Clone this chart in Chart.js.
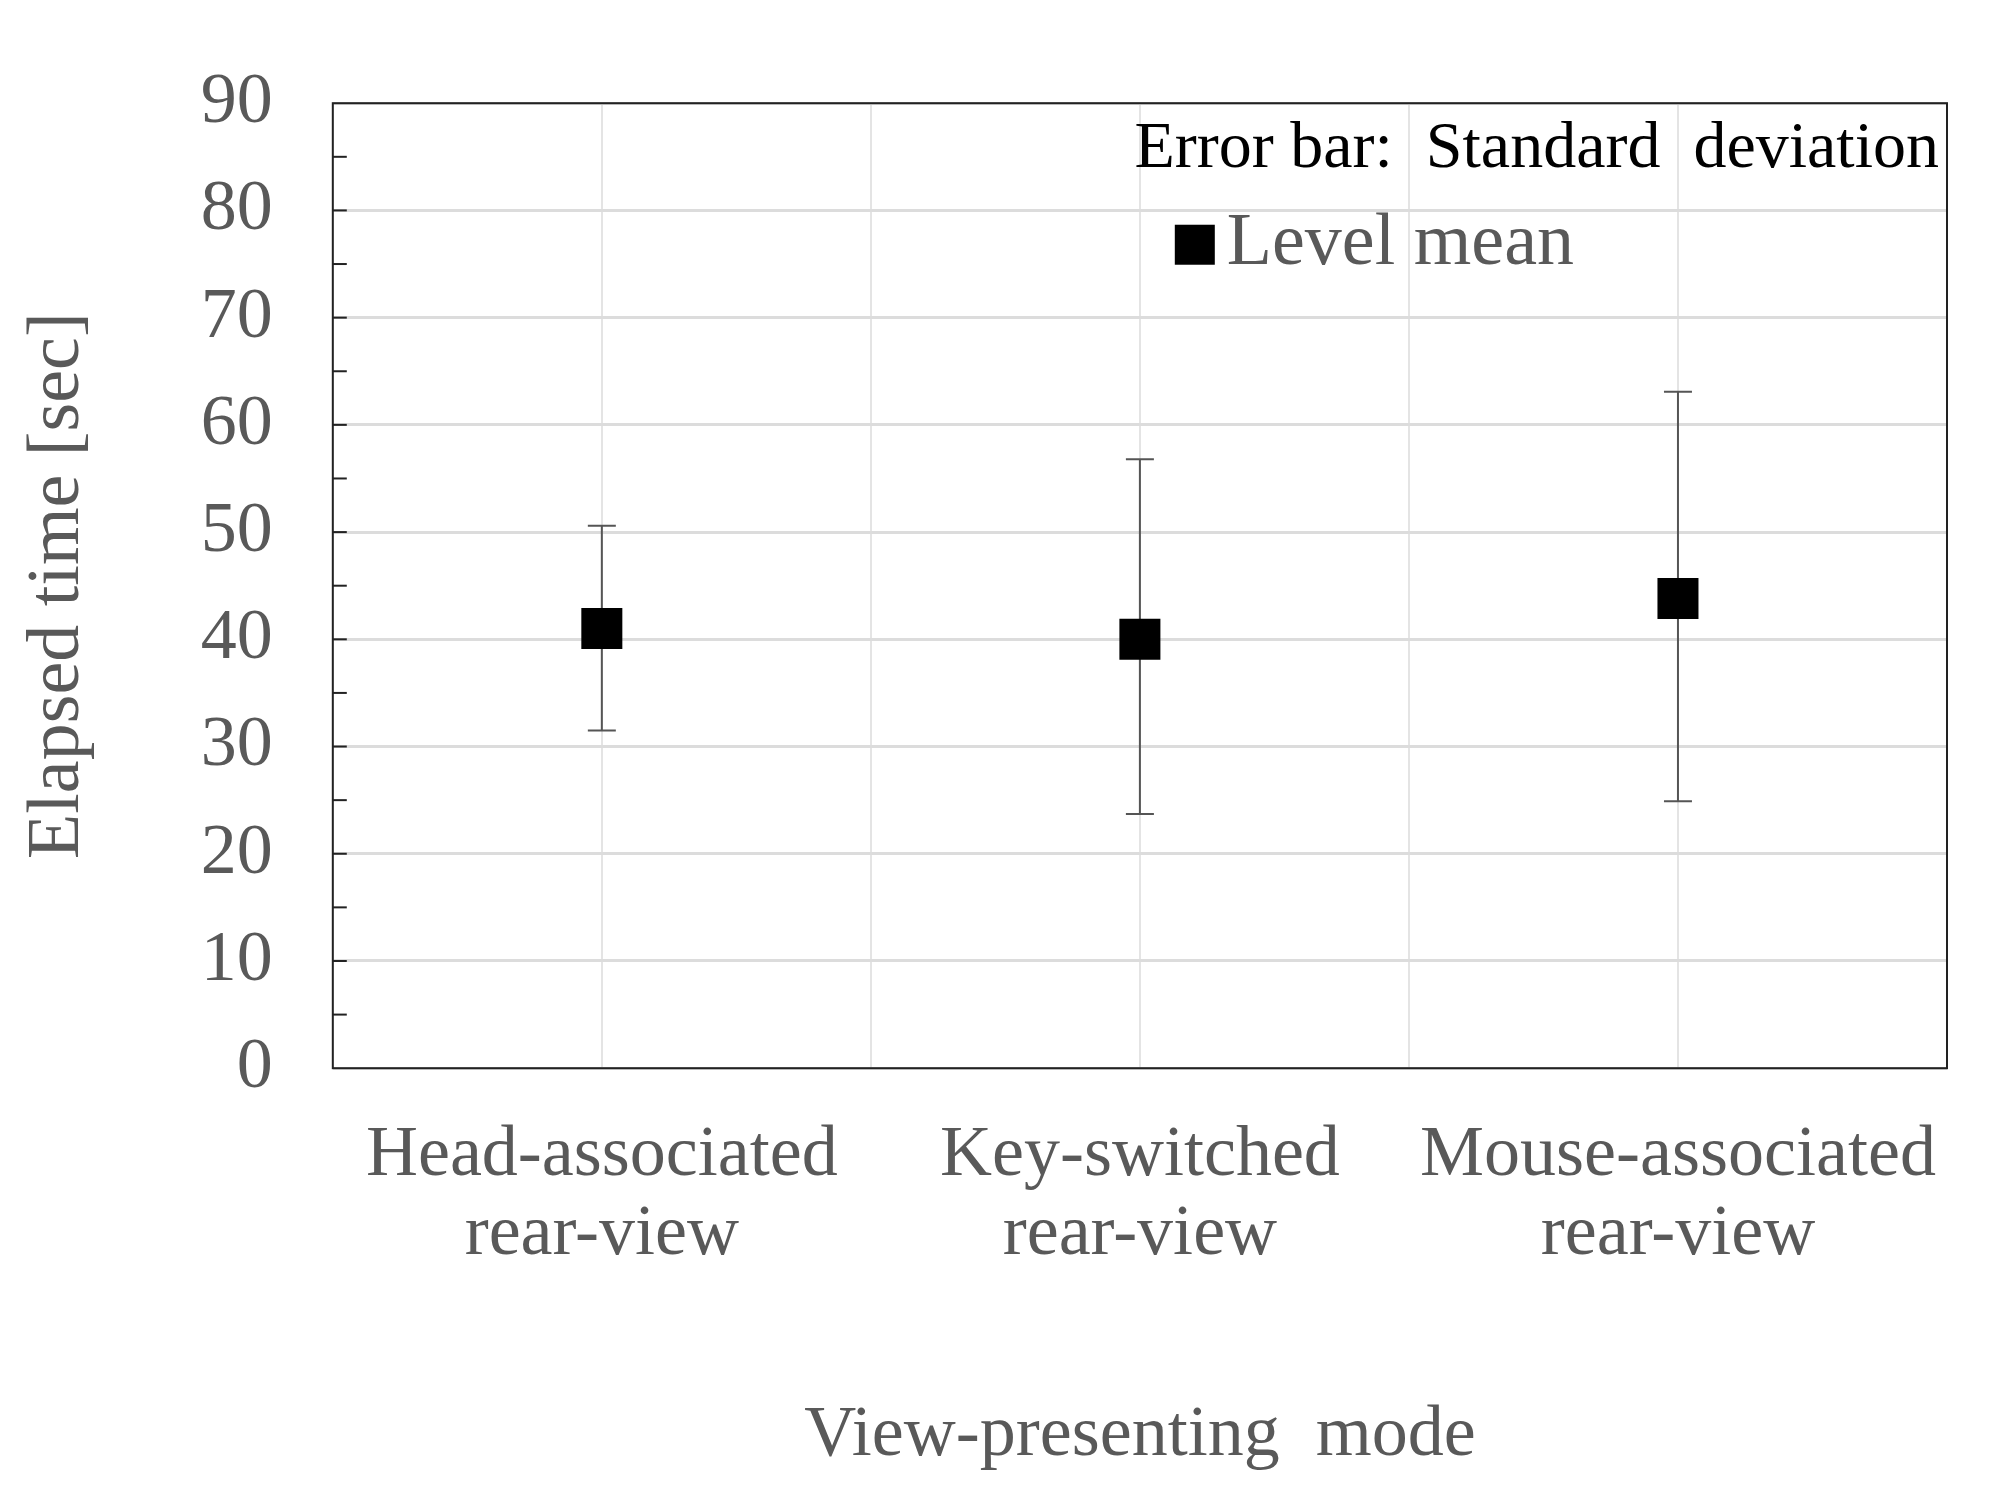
<!DOCTYPE html>
<html>
<head>
<meta charset="utf-8">
<script src="https://cdn.jsdelivr.net/npm/chart.js@4"></script>
<style>
  html, body { margin: 0; padding: 0; background: #fff; }
  #wrap { width: 1995px; height: 1497px; }
</style>
</head>
<body>
<div id="wrap"><canvas id="chart"></canvas></div>
<script>
const categories = [['Head-associated', 'rear-view'], ['Key-switched', 'rear-view'], ['Mouse-associated', 'rear-view']];
const positions = [0.5, 1.5, 2.5];
const means = [41.0, 40.0, 43.8];
const lowers = [31.5, 23.7, 24.9];
const uppers = [50.6, 56.8, 63.1];

const serif = '"Liberation Serif", "DejaVu Serif", serif';
const gray = '#595959';

const errorBars = {
  id: 'errorBars',
  beforeDatasetsDraw(chart) {
    const { ctx, scales: { x, y } } = chart;
    ctx.save();
    ctx.strokeStyle = '#555';
    ctx.lineWidth = 2;
    positions.forEach((p, i) => {
      const px = x.getPixelForValue(p);
      const lo = y.getPixelForValue(lowers[i]);
      const hi = y.getPixelForValue(uppers[i]);
      ctx.beginPath();
      ctx.moveTo(px, lo); ctx.lineTo(px, hi);
      ctx.moveTo(px - 14, lo); ctx.lineTo(px + 14, lo);
      ctx.moveTo(px - 14, hi); ctx.lineTo(px + 14, hi);
      ctx.stroke();
    });
    ctx.restore();
  },
  afterDraw(chart) {
    const { ctx, chartArea: a, scales: { y } } = chart;
    ctx.save();
    // inner tick marks on left axis
    ctx.strokeStyle = '#222';
    ctx.lineWidth = 2;
    for (let v = 5; v < 90; v += 5) {
      const py = y.getPixelForValue(v);
      ctx.beginPath();
      ctx.moveTo(a.left, py); ctx.lineTo(a.left + 14, py);
      ctx.stroke();
    }
    // frame
    ctx.strokeStyle = '#222';
    ctx.strokeRect(a.left, a.top, a.right - a.left, a.bottom - a.top);
    // legend text
    ctx.fillStyle = '#000';
    ctx.font = '66px ' + serif;
    ctx.textAlign = 'right';
    ctx.textBaseline = 'middle';
    ctx.fillText('Error bar:  Standard  deviation', a.right - 8, y.getPixelForValue(85.7));
    const ly = y.getPixelForValue(76.8);
    ctx.fillRect(a.left + 842, ly - 20, 40, 40);
    ctx.fillStyle = gray;
    ctx.font = '74px ' + serif;
    ctx.textAlign = 'left';
    ctx.fillText('Level mean', a.left + 894, ly);
    ctx.restore();
  }
};

new Chart(document.getElementById('chart'), {
  type: 'scatter',
  data: {
    datasets: [{
      label: 'Level mean',
      data: positions.map((p, i) => ({ x: p, y: means[i] })),
      pointStyle: 'rect',
      pointRadius: 29,
      backgroundColor: '#000',
      borderColor: '#000',
      borderWidth: 0,
    }],
  },
  options: {
    animation: false,
    responsive: true,
    maintainAspectRatio: false,
    layout: { padding: { top: 12, right: 10, left: 10, bottom: 14 } },
    plugins: { legend: { display: false }, tooltip: { enabled: false } },
    scales: {
      x: {
        type: 'linear',
        min: 0,
        max: 3,
        afterBuildTicks(scale) {
          scale.ticks = [0, 0.5, 1, 1.5, 2, 2.5, 3].map(v => ({ value: v }));
        },
        grid: { color: '#e4e4e4', lineWidth: 2, drawTicks: false },
        border: { display: false },
        ticks: {
          padding: 48,
          color: gray,
          font: { family: serif, size: 72, lineHeight: 1.1 },
          maxRotation: 0,
          autoSkip: false,
          callback: (v) => {
            const i = positions.indexOf(v);
            return i >= 0 ? categories[i] : '';
          },
        },
        title: {
          display: true,
          text: 'View-presenting  mode',
          color: gray,
          font: { family: serif, size: 72 },
          padding: { top: 70 },
        },
      },
      y: {
        min: 0,
        max: 90,
        afterBuildTicks(scale) {
          scale.ticks = [0, 10, 20, 30, 40, 50, 60, 70, 80, 90].map(v => ({ value: v }));
        },
        grid: { color: '#dcdcdc', lineWidth: 3, drawTicks: false },
        border: { display: false },
        ticks: {
          padding: 60,
          color: gray,
          font: { family: serif, size: 72 },
        },
        title: {
          display: true,
          text: 'Elapsed time [sec]',
          color: gray,
          font: { family: serif, size: 74 },
          padding: { bottom: 38 },
        },
      },
    },
  },
  plugins: [errorBars],
});
</script>
</body>
</html>
